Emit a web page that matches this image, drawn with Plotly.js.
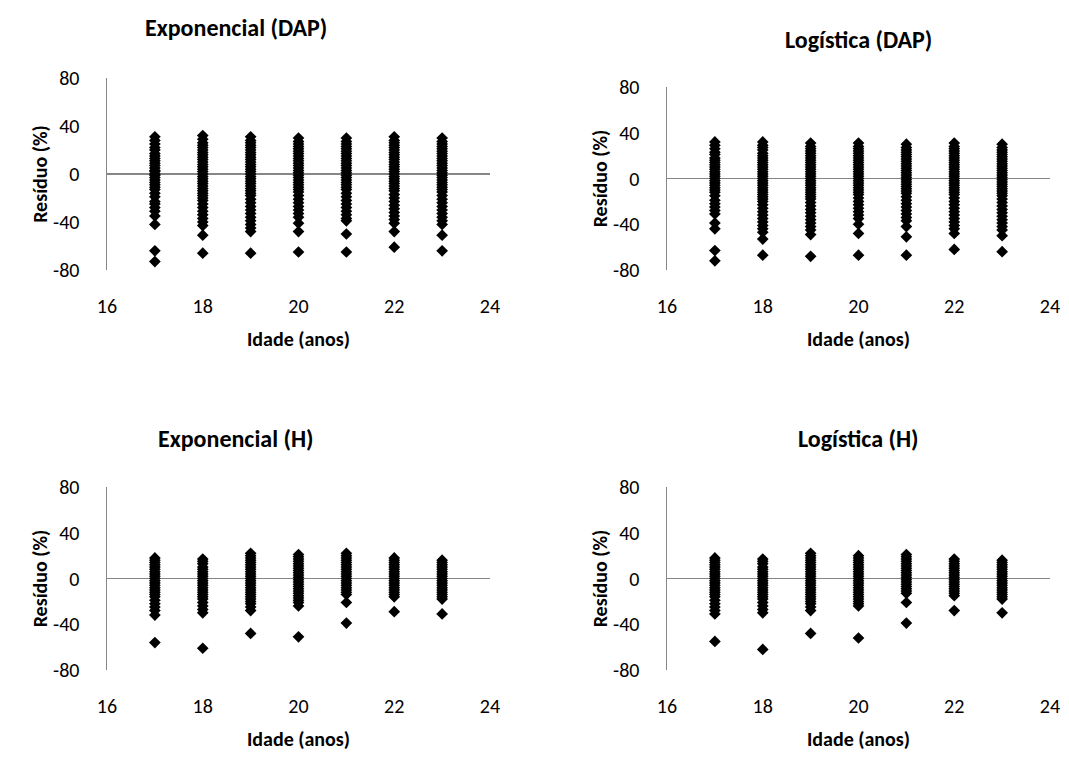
<!DOCTYPE html>
<html>
<head>
<meta charset="utf-8">
<script src="https://cdn.plot.ly/plotly-3.0.1.min.js"></script>
<style>
  html, body { margin: 0; padding: 0; background: #fff; }
  #chart { width: 1069px; height: 757px; }
</style>
</head>
<body>
<div id="chart"></div>
<script>
// Idades avaliadas (anos)
const idades = [17, 18, 19, 20, 21, 22, 23];

// Resíduos (%) por idade, um vetor por idade
const residuoExpDAP = [
  [31, 28, 25, 22, 20, 17, 15, 13, 11, 9, 7, 5, 3, 2, 0, -1, -3, -5, -7, -9, -11, -13, -16, -19, -23, -25, -28, -31, -35, -42, -64, -73],
  [32, 29, 26, 24, 22, 20, 18, 16, 14, 12, 10, 8, 6, 4, 2, 0, -2, -4, -6, -8, -10, -12, -14, -16, -18, -20, -22, -25, -28, -31, -34, -37, -40, -43, -51, -66],
  [31, 28, 26, 24, 22, 20, 18, 16, 14, 12, 10, 8, 6, 4, 2, 0, -2, -4, -6, -8, -10, -12, -14, -16, -18, -21, -24, -27, -30, -33, -36, -39, -42, -45, -48, -66],
  [30, 27, 25, 23, 21, 19, 17, 15, 13, 11, 9, 7, 5, 3, 1, -1, -3, -5, -7, -9, -11, -13, -15, -18, -21, -24, -27, -30, -33, -36, -41, -48, -65],
  [30, 27, 25, 23, 21, 19, 17, 15, 13, 11, 9, 7, 5, 3, 1, -1, -3, -5, -7, -9, -11, -13, -16, -19, -22, -25, -28, -31, -34, -37, -39, -50, -65],
  [31, 28, 26, 24, 22, 20, 18, 16, 14, 12, 10, 8, 6, 4, 2, 0, -2, -4, -6, -8, -10, -12, -14, -17, -20, -23, -26, -29, -32, -35, -38, -41, -48, -61],
  [30, 27, 25, 23, 21, 19, 17, 15, 13, 11, 9, 7, 5, 3, 1, -1, -3, -5, -7, -9, -11, -13, -15, -18, -21, -24, -27, -30, -33, -36, -39, -42, -51, -64]
];

const residuoLogDAP = [
  [32, 29, 26, 23, 21, 18, 16, 14, 12, 10, 8, 6, 4, 2, 0, -2, -4, -6, -8, -10, -12, -15, -19, -22, -25, -28, -31, -39, -44, -63, -72],
  [32, 29, 27, 25, 22, 20, 18, 16, 14, 12, 10, 8, 6, 4, 2, 0, -2, -4, -6, -8, -10, -12, -14, -16, -18, -20, -23, -26, -29, -32, -35, -38, -41, -44, -47, -53, -67],
  [31, 28, 26, 24, 22, 20, 18, 16, 14, 12, 10, 8, 6, 4, 2, 0, -2, -4, -6, -8, -10, -12, -14, -16, -18, -21, -24, -27, -30, -33, -36, -39, -42, -45, -49, -68],
  [31, 28, 26, 24, 22, 20, 18, 16, 14, 12, 10, 8, 6, 4, 2, 0, -2, -4, -6, -8, -10, -12, -14, -17, -20, -23, -26, -29, -32, -35, -40, -48, -67],
  [30, 27, 25, 23, 21, 19, 17, 15, 13, 11, 9, 7, 5, 3, 1, -1, -3, -5, -7, -9, -11, -13, -16, -19, -22, -25, -28, -31, -34, -37, -42, -51, -67],
  [31, 28, 26, 24, 22, 20, 18, 16, 14, 12, 10, 8, 6, 4, 2, 0, -2, -4, -6, -8, -10, -12, -14, -17, -20, -23, -26, -29, -32, -35, -38, -41, -44, -48, -62],
  [30, 27, 25, 23, 21, 19, 17, 15, 13, 11, 9, 7, 5, 3, 1, -1, -3, -5, -7, -9, -11, -13, -15, -18, -21, -24, -27, -30, -33, -36, -39, -42, -45, -50, -64]
];

const residuoExpH = [
  [18, 16, 14, 12, 10, 8, 6, 4, 2, 0, -2, -4, -6, -8, -10, -12, -14, -16, -19, -22, -25, -28, -32, -56],
  [17, 15, 13, 10, 8, 6, 4, 2, 0, -2, -4, -6, -8, -10, -12, -14, -16, -18, -21, -24, -27, -30, -61],
  [22, 20, 18, 16, 14, 12, 10, 8, 6, 4, 2, 0, -2, -4, -6, -8, -10, -12, -14, -16, -18, -20, -22, -25, -28, -48],
  [21, 19, 17, 15, 13, 11, 9, 7, 5, 3, 1, -1, -3, -5, -7, -9, -11, -13, -15, -17, -19, -21, -24, -51],
  [22, 20, 18, 16, 14, 12, 10, 8, 6, 4, 2, 0, -2, -4, -6, -8, -10, -12, -14, -21, -39],
  [18, 16, 14, 12, 10, 8, 6, 4, 2, 0, -2, -4, -6, -8, -10, -12, -14, -16, -29],
  [16, 14, 12, 10, 8, 6, 4, 2, 0, -2, -4, -6, -8, -10, -12, -14, -16, -18, -31]
];

const residuoLogH = [
  [18, 16, 14, 12, 10, 8, 6, 4, 2, 0, -2, -4, -6, -8, -10, -12, -14, -16, -19, -22, -25, -28, -31, -55],
  [17, 15, 13, 10, 8, 6, 4, 2, 0, -2, -4, -6, -8, -10, -12, -14, -16, -18, -21, -24, -27, -30, -62],
  [22, 20, 18, 16, 14, 12, 10, 8, 6, 4, 2, 0, -2, -4, -6, -8, -10, -12, -14, -16, -18, -20, -22, -25, -28, -48],
  [20, 18, 16, 14, 12, 10, 8, 6, 4, 2, 0, -2, -4, -6, -8, -10, -12, -14, -16, -18, -20, -22, -24, -52],
  [21, 19, 17, 15, 13, 11, 9, 7, 5, 3, 1, -1, -3, -5, -7, -9, -11, -13, -21, -39],
  [17, 15, 13, 11, 9, 7, 5, 3, 1, -1, -3, -5, -7, -9, -11, -13, -15, -28],
  [16, 14, 12, 10, 8, 6, 4, 2, 0, -2, -4, -6, -8, -10, -12, -14, -16, -18, -30]
];

const titulos = ['Exponencial (DAP)', 'Logística (DAP)', 'Exponencial (H)', 'Logística (H)'];
const tituloX = 'Idade (anos)';
const tituloY = 'Resíduo (%)';
const ticksX = [16, 18, 20, 22, 24];
const ticksY = [-80, -40, 0, 40, 80];

const conjuntos = [residuoExpDAP, residuoLogDAP, residuoExpH, residuoLogH];

// Painéis: posições em pixels da figura
const W = 1069, H = 757;
const paineis = [
  { x0: 107, x1: 490, top: 78, bottom: 270, titleX: 236, titleY: 28 },
  { x0: 667, x1: 1050, top: 87, bottom: 270, titleX: 858, titleY: 40 },
  { x0: 107, x1: 490, top: 487, bottom: 670, titleX: 236, titleY: 438 },
  { x0: 667, x1: 1050, top: 487, bottom: 670, titleX: 858, titleY: 438 }
];

const FONT = 'Carlito, Calibri, Lato, "Open Sans", sans-serif';

const traces = [];
const layout = {
  width: W, height: H,
  margin: { l: 0, r: 0, t: 0, b: 0 },
  paper_bgcolor: '#ffffff',
  plot_bgcolor: 'rgba(0,0,0,0)',
  showlegend: false,
  font: { family: FONT, color: '#000000', size: 20 },
  annotations: []
};

conjuntos.forEach((dados, i) => {
  const xs = [], ys = [];
  dados.forEach((vals, k) => {
    vals.forEach(v => { xs.push(idades[k]); ys.push(v); });
  });
  const n = i === 0 ? '' : String(i + 1);
  traces.push({
    type: 'scatter', mode: 'markers',
    x: xs, y: ys,
    xaxis: 'x' + n, yaxis: 'y' + n,
    marker: { symbol: 'diamond', size: 9, color: '#000000' },
    hoverinfo: 'x+y'
  });
  const p = paineis[i];
  layout['xaxis' + n] = {
    domain: [p.x0 / W, p.x1 / W],
    anchor: 'y' + n,
    range: [16, 24],
    tickvals: ticksX,
    ticktext: ticksX.map(String),
    showgrid: false, zeroline: false, showline: false,
    ticks: 'outside', ticklen: 18, tickcolor: 'rgba(0,0,0,0)',
    tickfont: { family: FONT, size: 20, color: '#000' },
    title: { text: '<b>' + tituloX + '</b>', font: { family: FONT, size: 20, color: '#000' }, standoff: 14 },
    fixedrange: true
  };
  layout['yaxis' + n] = {
    domain: [1 - p.bottom / H, 1 - p.top / H],
    anchor: 'x' + n,
    range: [-80, 80],
    tickvals: ticksY,
    ticktext: ticksY.map(String),
    showgrid: false,
    zeroline: true, zerolinecolor: '#868686', zerolinewidth: 1.5,
    showline: true, linecolor: '#868686', linewidth: 1.5,
    ticks: 'outside', ticklen: 22, tickcolor: 'rgba(0,0,0,0)',
    tickfont: { family: FONT, size: 20, color: '#000' },
    title: { text: '<b>' + tituloY + '</b>', font: { family: FONT, size: 20, color: '#000' }, standoff: 0 },
    fixedrange: true
  };
  layout.annotations.push({
    text: '<b>' + titulos[i] + '</b>',
    xref: 'paper', yref: 'paper',
    x: p.titleX / W,
    y: 1 - p.titleY / H,
    xanchor: 'center', yanchor: 'middle',
    showarrow: false,
    font: { family: FONT, size: 24, color: '#000' }
  });
});

Plotly.newPlot('chart', traces, layout, { displayModeBar: false, staticPlot: true });
</script>
</body>
</html>
